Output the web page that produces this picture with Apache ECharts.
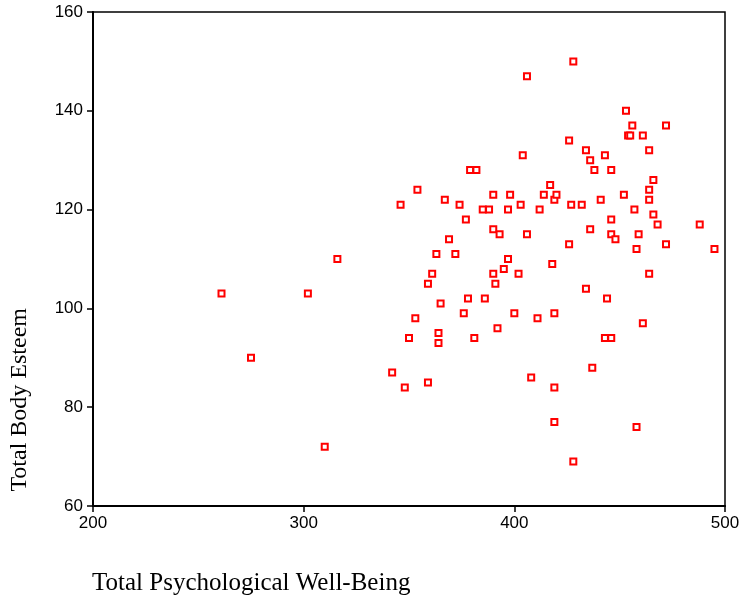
<!DOCTYPE html>
<html>
<head>
<meta charset="utf-8">
<script src="https://cdn.jsdelivr.net/npm/echarts@6/dist/echarts.min.js"></script>
<style>html,body{margin:0;padding:0;background:#fff;}#c{width:745px;height:600px;}</style>
</head>
<body>
<div id="c"></div>
<script>
var xTitle = 'Total Psychological Well-Being';
var yTitle = 'Total Body Esteem';
var wellBeing = [261,275,302,310,316,342,346,348,350,353,354,359,359,361,363,364,364,365,367,369,372,374,376,377,378,379,382,381,385,386,388,390,390,390,391,392,393,395,397,397,398,400,402,403,404,406,406,408,411,412,414,417,418,419,419,419,419,420,426,426,427,428,428,432,434,434,436,436,437,438,441,443,443,444,446,446,446,446,448,452,453,454,455,456,457,458,458,459,461,461,464,464,464,464,466,466,468,472,472,488,495];
var bodyEsteem = [103,90,103,72,110,87,121,84,94,98,124,85,105,107,111,95,93,101,122,114,111,121,99,118,102,128,128,94,120,102,120,116,123,107,105,96,115,108,110,120,123,99,107,121,131,147,115,86,98,120,123,125,109,84,99,77,122,123,134,113,121,69,150,121,104,132,130,116,88,128,122,131,94,102,94,128,115,118,114,123,140,135,135,137,120,112,76,115,135,97,124,122,132,107,126,119,117,137,113,117,112];
var xTicks = [200,500,100];
var yTicks = [60,160,20];

var pts = wellBeing.map(function(v,i){return [v, bodyEsteem[i]];});
var chart = echarts.init(document.getElementById('c'));
chart.setOption({
  animation:false,
  backgroundColor:'#fff',
  grid:{left:93,right:20,top:12,bottom:94,show:true,borderColor:'#000',borderWidth:1.5,backgroundColor:'transparent'},
  xAxis:{type:'value',min:xTicks[0],max:xTicks[1],interval:xTicks[2],
    axisLine:{show:true,lineStyle:{color:'#000',width:2}},
    axisTick:{show:true,length:6,lineStyle:{color:'#000',width:1.5}},
    axisLabel:{color:'#000',fontFamily:'Liberation Sans',fontSize:17,margin:9},
    splitLine:{show:false}},
  yAxis:{type:'value',min:yTicks[0],max:yTicks[1],interval:yTicks[2],
    axisLine:{show:true,lineStyle:{color:'#000',width:2}},
    axisTick:{show:true,length:6,lineStyle:{color:'#000',width:1.5}},
    axisLabel:{color:'#000',fontFamily:'Liberation Sans',fontSize:17,margin:10},
    splitLine:{show:false}},
  graphic:[
    {type:'text',left:92,top:571,style:{text:xTitle,font:'25px "Liberation Serif"',fill:'#000'}},
    {type:'text',left:8,top:308,rotation:Math.PI/2,style:{text:yTitle,font:'24px "Liberation Serif"',fill:'#000'}}
  ],
  series:[{type:'scatter',data:pts,symbol:'rect',symbolSize:6,
    itemStyle:{color:'#fff',borderColor:'#ff0000',borderWidth:2,opacity:1}}]
});
</script>
</body>
</html>
